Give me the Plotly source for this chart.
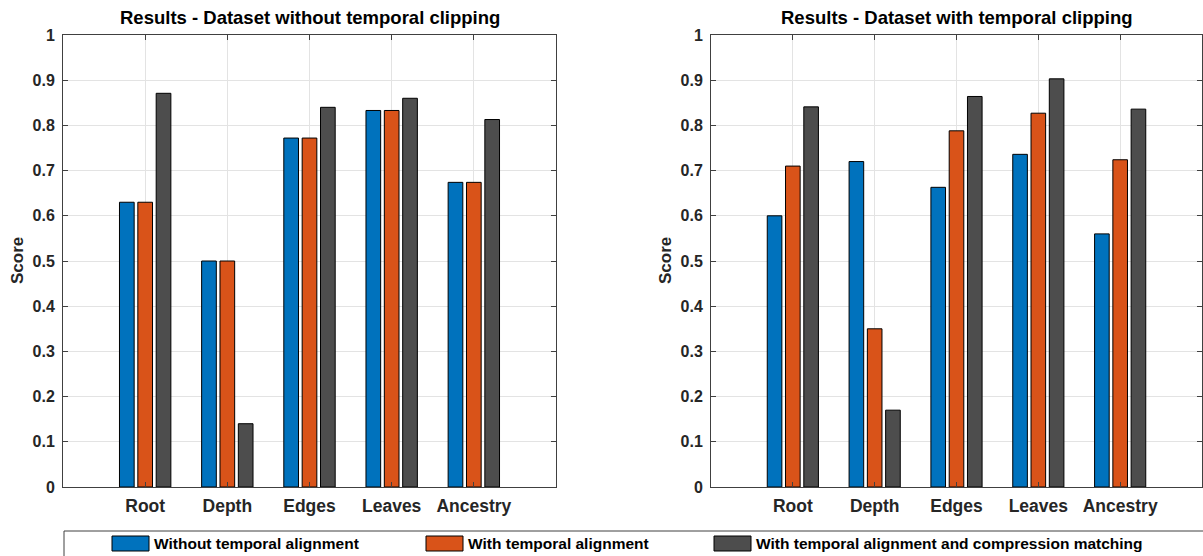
import plotly.graph_objects as go

# ---- data -------------------------------------------------------------
categories = ["Root", "Depth", "Edges", "Leaves", "Ancestry"]
series_names = [
    "Without temporal alignment",
    "With temporal alignment",
    "With temporal alignment and compression matching",
]
series_colors = ["#0072BD", "#D95319", "#4D4D4D"]

# Dataset without temporal clipping
no_clip_without = [0.630, 0.500, 0.772, 0.833, 0.674]
no_clip_aligned = [0.630, 0.500, 0.772, 0.833, 0.674]
no_clip_matched = [0.871, 0.140, 0.840, 0.860, 0.813]

# Dataset with temporal clipping
clip_without = [0.600, 0.720, 0.663, 0.736, 0.560]
clip_aligned = [0.710, 0.350, 0.788, 0.827, 0.724]
clip_matched = [0.841, 0.170, 0.864, 0.903, 0.836]

panel_titles = [
    "Results - Dataset without temporal clipping",
    "Results - Dataset with temporal clipping",
]
y_ticks = [0, 0.1, 0.2, 0.3, 0.4, 0.5, 0.6, 0.7, 0.8, 0.9, 1]
y_tick_labels = ["0", "0.1", "0.2", "0.3", "0.4", "0.5", "0.6", "0.7", "0.8", "0.9", "1"]
y_title = "Score"

# ---- layout helpers (pixel -> paper) ---------------------------------
W, H = 1203, 556
FONT = "Liberation Sans, Arial, Helvetica, sans-serif"
TXT = "#262626"
AX = "#404040"
GRID = "#e3e3e3"


def px(x):
    return x / W


def py(y):
    return 1 - y / H


panels = [
    dict(x0=63, x1=556, data=[no_clip_without, no_clip_aligned, no_clip_matched]),
    dict(x0=711, x1=1202, data=[clip_without, clip_aligned, clip_matched]),
]
plot_top, plot_bottom = 35, 487

fig = go.Figure()

for p_i, panel in enumerate(panels):
    xa = "x" if p_i == 0 else "x2"
    ya = "y" if p_i == 0 else "y2"
    for s_i, values in enumerate(panel["data"]):
        fig.add_trace(
            go.Bar(
                x=categories,
                y=values,
                name=series_names[s_i],
                marker=dict(color=series_colors[s_i], line=dict(color="#000000", width=1)),
                xaxis=xa,
                yaxis=ya,
                showlegend=False,
                offsetgroup=str(s_i),
            )
        )

axis_common_x = dict(
    type="category",
    range=[-1, 5],
    automargin=False,
    showline=True,
    linecolor=AX,
    linewidth=1,
    mirror="ticks",
    ticks="inside",
    ticklen=5,
    tickcolor=AX,
    showgrid=True,
    gridcolor=GRID,
    gridwidth=1,
    tickfont=dict(family=FONT, size=17.5, color=TXT, weight="bold"),
    ticklabelstandoff=3,
    zeroline=False,
    fixedrange=True,
)
axis_common_y = dict(
    range=[0, 1],
    automargin=False,
    tickvals=y_ticks,
    ticktext=y_tick_labels,
    showline=True,
    linecolor=AX,
    linewidth=1,
    mirror="ticks",
    ticks="inside",
    ticklen=5,
    tickcolor=AX,
    showgrid=True,
    gridcolor=GRID,
    gridwidth=1,
    tickfont=dict(family=FONT, size=16, color=TXT, weight="bold"),
    ticklabelstandoff=4,
    zeroline=False,
    fixedrange=True,
)

ydom = [py(plot_bottom), py(plot_top)]
fig.update_layout(
    width=W,
    height=H,
    margin=dict(l=0, r=0, t=0, b=0, pad=0),
    paper_bgcolor="white",
    plot_bgcolor="white",
    barmode="group",
    bargap=0.33,
    bargroupgap=0.2,
    showlegend=False,
    xaxis=dict(axis_common_x, domain=[px(panels[0]["x0"]), px(panels[0]["x1"])], anchor="y"),
    yaxis=dict(axis_common_y, domain=ydom, anchor="x"),
    xaxis2=dict(axis_common_x, domain=[px(panels[1]["x0"]), px(panels[1]["x1"])], anchor="y2"),
    yaxis2=dict(axis_common_y, domain=ydom, anchor="x2"),
)

annotations = []
for p_i, panel in enumerate(panels):
    cx = (panel["x0"] + panel["x1"]) / 2
    annotations.append(
        dict(
            text=panel_titles[p_i],
            x=px(cx), y=py(17), xref="paper", yref="paper",
            xanchor="center", yanchor="middle", showarrow=False,
            font=dict(family=FONT, size=18.5, color="#000000", weight="bold"),
        )
    )
    annotations.append(
        dict(
            text=y_title,
            x=px(panel["x0"] - 46), y=py((plot_top + plot_bottom) / 2),
            xref="paper", yref="paper", textangle=-90,
            xanchor="center", yanchor="middle", showarrow=False,
            font=dict(family=FONT, size=17, color=TXT, weight="bold"),
        )
    )

# ---- legend box drawn below both panels -------------------------------
shapes = [
    dict(type="rect", xref="paper", yref="paper",
         x0=px(64), x1=px(1215), y0=py(531), y1=py(575),
         line=dict(color=AX, width=1), fillcolor="white", layer="below"),
]
legend_patch_x = [112, 426, 714]
for i, name in enumerate(series_names):
    lx = legend_patch_x[i]
    shapes.append(
        dict(type="rect", xref="paper", yref="paper",
             x0=px(lx), x1=px(lx + 37), y0=py(551), y1=py(536),
             line=dict(color="#000000", width=1), fillcolor=series_colors[i])
    )
    annotations.append(
        dict(text=name, x=px(lx + 40), y=py(543.5), xref="paper", yref="paper",
             xanchor="left", yanchor="middle", showarrow=False,
             font=dict(family=FONT, size=15.5, color="#000000", weight="bold"))
    )

fig.update_layout(annotations=annotations, shapes=shapes)

fig.write_html("out.html")
